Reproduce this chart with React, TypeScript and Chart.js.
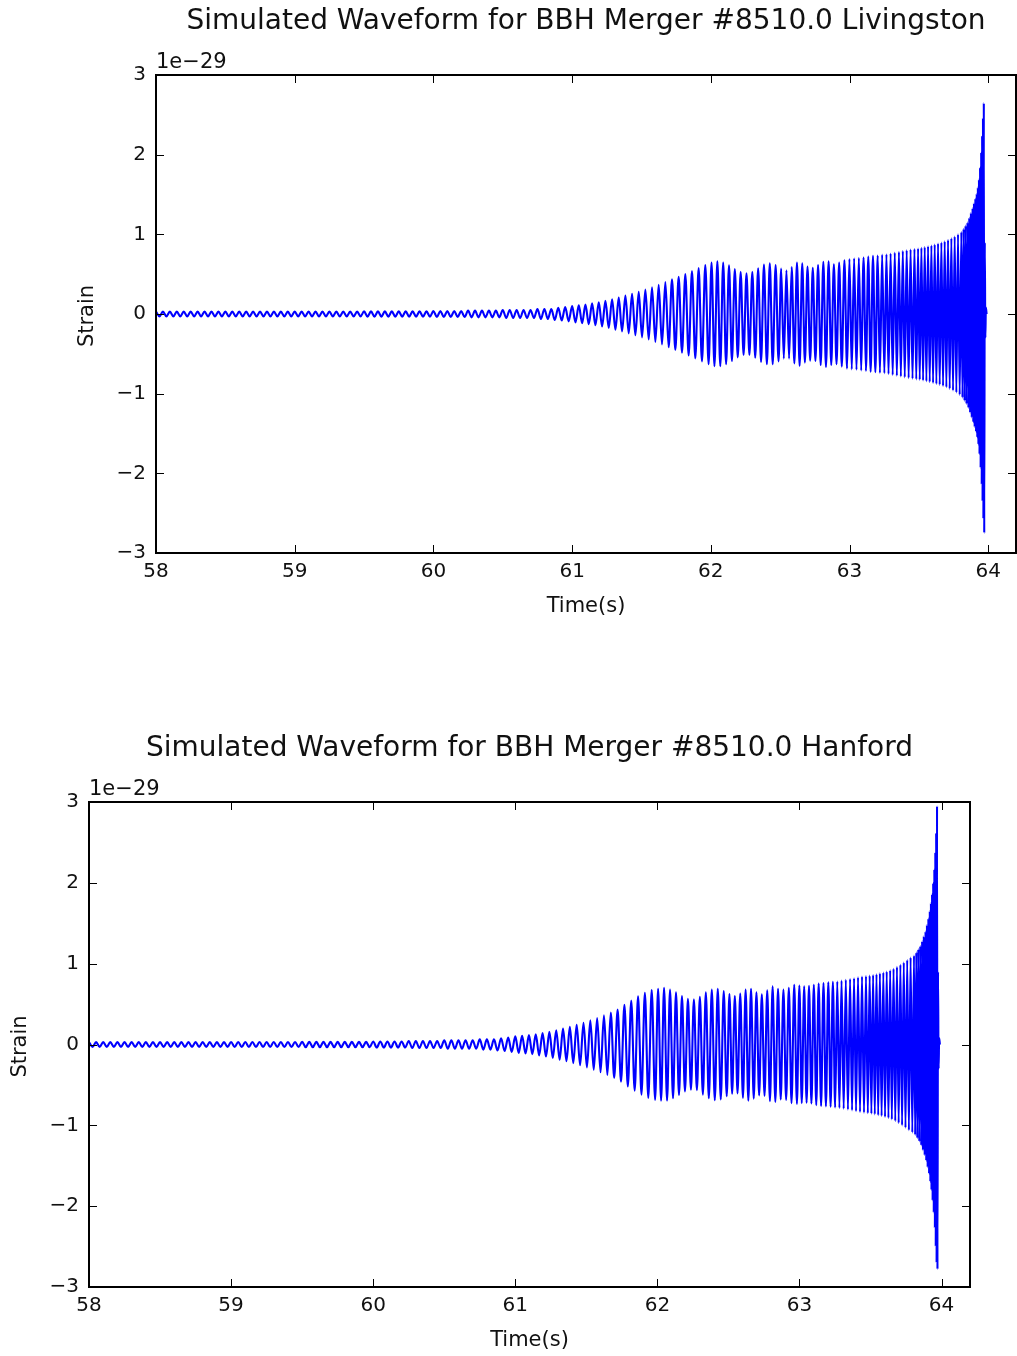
import React, { useEffect, useRef } from "react";
import { Chart, registerables } from "chart.js";

Chart.register(...registerables);

// ---------------- data ----------------
const mergerId = "8510.0";
const detectorNames = ["Livingston", "Hanford"];
const xTickValues = [58, 59, 60, 61, 62, 63, 64];
const yTickValues = [-3, -2, -1, 0, 1, 2, 3];
const exponentLabel = "1e\u221229";
const xAxisTitle = "Time(s)";
const yAxisTitle = "Strain";

// times (s) of successive maxima / minima of the waveform
const extremaTimes = [
  58, 58.025, 58.05, 58.075, 58.1, 58.125, 58.15, 58.175, 58.2, 58.225, 58.25, 58.275, 58.3, 58.325, 58.35, 58.375, 58.4, 58.425, 58.45, 58.475,
  58.5, 58.525, 58.55, 58.575, 58.6, 58.625, 58.65, 58.675, 58.7, 58.725, 58.75, 58.775, 58.8, 58.825, 58.85, 58.875, 58.9, 58.925, 58.95, 58.975,
  59, 59.025, 59.05, 59.075, 59.1, 59.125, 59.15, 59.175, 59.2, 59.225, 59.25, 59.275, 59.3, 59.325, 59.35, 59.375, 59.4, 59.425, 59.45, 59.475,
  59.5, 59.525, 59.55, 59.575, 59.6, 59.625, 59.65, 59.675, 59.7, 59.725, 59.75, 59.775, 59.8, 59.825, 59.85, 59.875, 59.9, 59.925, 59.95, 59.975,
  60, 60.025, 60.05, 60.075, 60.1, 60.125, 60.15, 60.175, 60.2, 60.225, 60.25, 60.275, 60.3, 60.325, 60.35, 60.375, 60.4, 60.425, 60.45, 60.475,
  60.5, 60.525, 60.55, 60.575, 60.6, 60.625, 60.65, 60.675, 60.7, 60.725, 60.75, 60.775, 60.8, 60.825, 60.85, 60.875, 60.9, 60.925, 60.95, 60.975,
  61, 61.024, 61.048, 61.072, 61.096, 61.12, 61.144, 61.168, 61.192, 61.216, 61.24, 61.264, 61.288, 61.312, 61.336, 61.36, 61.384, 61.408, 61.432, 61.456, 61.48,
  61.504, 61.528, 61.552, 61.576, 61.6, 61.624, 61.648, 61.672, 61.696, 61.72, 61.744, 61.768, 61.792, 61.816, 61.84, 61.864, 61.888, 61.912, 61.936, 61.96, 61.984,
  62.005, 62.026, 62.047, 62.068, 62.089, 62.11, 62.131, 62.152, 62.173, 62.194, 62.215, 62.236, 62.257, 62.278, 62.299, 62.32, 62.341, 62.362, 62.383, 62.404, 62.425, 62.446, 62.467, 62.488,
  62.507, 62.526, 62.545, 62.564, 62.583, 62.602, 62.621, 62.64, 62.659, 62.678, 62.697, 62.716, 62.735, 62.754, 62.773, 62.792, 62.811, 62.83, 62.849, 62.868, 62.887, 62.906, 62.925, 62.944, 62.963, 62.982,
  62.999, 63.016, 63.033, 63.05, 63.067, 63.084, 63.101, 63.118, 63.135, 63.152, 63.169, 63.186, 63.203, 63.219, 63.235, 63.251,
  63.266, 63.281, 63.296, 63.311, 63.326, 63.341, 63.356, 63.37, 63.384, 63.398, 63.412, 63.426, 63.44, 63.454, 63.468, 63.481,
  63.494, 63.506, 63.518, 63.53, 63.542, 63.554, 63.566, 63.578, 63.59, 63.602, 63.614, 63.626, 63.638, 63.65, 63.662, 63.674, 63.686, 63.698, 63.71, 63.722, 63.734, 63.746, 63.758, 63.77, 63.782, 63.794,
  63.806, 63.814, 63.822, 63.829, 63.836, 63.843, 63.85, 63.857, 63.863, 63.869, 63.875, 63.881, 63.887, 63.892, 63.897, 63.902, 63.907,
  63.912, 63.917, 63.921, 63.925, 63.929, 63.933, 63.937, 63.941, 63.945, 63.949, 63.953, 63.956, 63.959, 63.962, 63.965, 63.968, 63.971,
  63.975, 63.979, 63.983, 63.988,
];

// strain (units of 1e-29) at each extremum — Livingston
const livingstonStrain = [
  0.03, -0.03, 0.03, -0.03, 0.03, -0.03, 0.03, -0.03, 0.03, -0.03, 0.03, -0.03, 0.03, -0.03, 0.03, -0.03, 0.03, -0.03, 0.03, -0.03,
  0.03, -0.03, 0.03, -0.03, 0.03, -0.03, 0.03, -0.03, 0.03, -0.03, 0.03, -0.03, 0.03, -0.03, 0.03, -0.03, 0.03, -0.03, 0.03, -0.03,
  0.03, -0.03, 0.03, -0.03, 0.03, -0.03, 0.03, -0.03, 0.03, -0.03, 0.03, -0.03, 0.03, -0.03, 0.03, -0.03, 0.03, -0.03, 0.03, -0.03,
  0.033, -0.033, 0.033, -0.033, 0.033, -0.033, 0.033, -0.033, 0.033, -0.033, 0.033, -0.033, 0.033, -0.033, 0.033, -0.033, 0.033, -0.033, 0.033, -0.033,
  0.036, -0.036, 0.036, -0.036, 0.036, -0.036, 0.036, -0.036, 0.036, -0.036, 0.042, -0.042, 0.042, -0.042, 0.042, -0.042, 0.042, -0.042, 0.042, -0.042,
  0.05, -0.05, 0.05, -0.05, 0.05, -0.05, 0.05, -0.05, 0.05, -0.05, 0.062, -0.062, 0.062, -0.062, 0.062, -0.075, 0.078, -0.082, 0.087, -0.092,
  0.1, -0.105, 0.11, -0.115, 0.12, -0.127, 0.134, -0.141, 0.148, -0.156, 0.165, -0.175, 0.185, -0.196, 0.207, -0.219, 0.231, -0.243, 0.255, -0.267, 0.28,
  -0.293, 0.307, -0.321, 0.336, -0.35, 0.366, -0.383, 0.4, -0.417, 0.434, -0.451, 0.468, -0.485, 0.503, -0.521, 0.54, -0.558, 0.576, -0.595, 0.613, -0.63,
  0.645, -0.655, 0.66, -0.655, 0.645, -0.63, 0.61, -0.59, 0.565, -0.545, 0.53, -0.515, 0.51, -0.515, 0.53, -0.55, 0.575, -0.6, 0.62, -0.63, 0.635, -0.63, 0.615, -0.595,
  0.57, -0.56, 0.55, -0.56, 0.59, -0.62, 0.645, -0.65, 0.635, -0.61, 0.595, -0.585, 0.58, -0.59, 0.615, -0.64, 0.655, -0.665, 0.66, -0.64, 0.625, -0.63, 0.645, -0.66, 0.675, -0.685,
  0.69, -0.695, 0.7, -0.7, 0.705, -0.71, 0.71, -0.715, 0.72, -0.725, 0.73, -0.73, 0.735, -0.74, 0.745, -0.745,
  0.75, -0.755, 0.76, -0.765, 0.77, -0.775, 0.78, -0.785, 0.79, -0.795, 0.8, -0.805, 0.81, -0.812, 0.815, -0.82,
  0.822, -0.826, 0.83, -0.835, 0.84, -0.845, 0.85, -0.855, 0.86, -0.866, 0.872, -0.878, 0.884, -0.89, 0.897, -0.904, 0.912, -0.92, 0.93, -0.94, 0.95, -0.96, 0.972, -0.985, 1.0, -1.015,
  1.03, -1.05, 1.07, -1.09, 1.11, -1.13, 1.15, -1.18, 1.21, -1.24, 1.27, -1.3, 1.33, -1.36, 1.39, -1.42, 1.45,
  -1.48, 1.51, -1.55, 1.59, -1.64, 1.69, -1.76, 1.84, -1.93, 2.03, -2.14, 2.24, -2.35, 2.46, -2.57, 2.65, -2.75,
  0.9, -0.3, 0.08, 0,
];

// strain (units of 1e-29) at each extremum — Hanford
const hanfordStrain = [
  0.03, -0.03, 0.03, -0.03, 0.03, -0.03, 0.03, -0.03, 0.03, -0.03, 0.03, -0.03, 0.03, -0.03, 0.03, -0.03, 0.03, -0.03, 0.03, -0.03,
  0.03, -0.03, 0.03, -0.03, 0.03, -0.03, 0.03, -0.03, 0.03, -0.03, 0.03, -0.03, 0.03, -0.03, 0.03, -0.03, 0.03, -0.03, 0.03, -0.03,
  0.031, -0.031, 0.031, -0.031, 0.031, -0.031, 0.031, -0.031, 0.031, -0.031, 0.031, -0.031, 0.031, -0.031, 0.031, -0.031, 0.031, -0.031, 0.031, -0.031,
  0.034, -0.034, 0.034, -0.034, 0.034, -0.034, 0.034, -0.034, 0.034, -0.034, 0.034, -0.034, 0.034, -0.034, 0.034, -0.034, 0.034, -0.034, 0.034, -0.034,
  0.038, -0.038, 0.038, -0.038, 0.038, -0.038, 0.038, -0.038, 0.038, -0.038, 0.044, -0.044, 0.044, -0.044, 0.044, -0.044, 0.044, -0.044, 0.044, -0.044,
  0.052, -0.052, 0.052, -0.052, 0.052, -0.052, 0.052, -0.052, 0.052, -0.052, 0.063, -0.063, 0.063, -0.063, 0.063, -0.074, 0.077, -0.081, 0.086, -0.092,
  0.1, -0.104, 0.108, -0.112, 0.116, -0.12, 0.127, -0.134, 0.141, -0.149, 0.158, -0.167, 0.177, -0.187, 0.197, -0.207, 0.219, -0.231, 0.244, -0.257, 0.27,
  -0.284, 0.298, -0.313, 0.328, -0.344, 0.36, -0.377, 0.395, -0.413, 0.432, -0.46, 0.49, -0.52, 0.545, -0.57, 0.595, -0.62, 0.64, -0.66, 0.675, -0.685,
  0.69, -0.695, 0.7, -0.695, 0.68, -0.665, 0.645, -0.625, 0.6, -0.58, 0.565, -0.56, 0.56, -0.565, 0.59, -0.62, 0.645, -0.665, 0.68, -0.69, 0.69, -0.68, 0.66, -0.64,
  0.625, -0.61, 0.6, -0.605, 0.63, -0.66, 0.68, -0.695, 0.69, -0.67, 0.645, -0.63, 0.62, -0.635, 0.67, -0.7, 0.72, -0.71, 0.69, -0.68, 0.68, -0.685, 0.7, -0.725, 0.74, -0.735,
  0.73, -0.725, 0.72, -0.72, 0.725, -0.73, 0.74, -0.75, 0.755, -0.76, 0.76, -0.765, 0.77, -0.77, 0.775, -0.78,
  0.78, -0.785, 0.79, -0.795, 0.8, -0.805, 0.81, -0.815, 0.82, -0.825, 0.83, -0.835, 0.84, -0.843, 0.846, -0.85,
  0.852, -0.856, 0.86, -0.865, 0.87, -0.875, 0.88, -0.885, 0.89, -0.896, 0.903, -0.91, 0.918, -0.927, 0.937, -0.948, 0.96, -0.973, 0.987, -1.0, 1.015, -1.03, 1.045, -1.06, 1.075, -1.09,
  1.1, -1.12, 1.14, -1.16, 1.18, -1.2, 1.22, -1.25, 1.28, -1.31, 1.34, -1.37, 1.4, -1.44, 1.48, -1.52, 1.56,
  -1.6, 1.65, -1.7, 1.75, -1.8, 1.86, -1.93, 2.0, -2.08, 2.17, -2.27, 2.38, -2.5, 2.62, -2.7, 2.95, -2.78,
  0.9, -0.3, 0.08, 0,
];

const seriesByDetector = [livingstonStrain, hanfordStrain];

// ---------------- layout ----------------
const PAGE_W = 1017;
const panels = [
  { top: 0, height: 660, plot: { left: 156, top: 75, right: 1016, bottom: 553 } },
  { top: 660, height: 696, plot: { left: 89, top: 142, right: 970, bottom: 627 } },
];

const FONT = "'DejaVu Sans', 'Liberation Sans', sans-serif";
const fmt = (v: number) => String(v).replace("-", "\u2212");

const framePlugin = {
  id: "mplFrame",
  afterDraw(chart: any, _args: any, opts: any) {
    const { ctx, chartArea: a, scales } = chart;
    ctx.save();
    ctx.strokeStyle = "#000";
    ctx.lineWidth = 1;
    const L = 8;
    const seg = (x1: number, y1: number, x2: number, y2: number) => {
      ctx.beginPath();
      ctx.moveTo(x1, y1);
      ctx.lineTo(x2, y2);
      ctx.stroke();
    };
    for (const v of xTickValues) {
      const px = Math.round(scales.x.getPixelForValue(v)) + 0.5;
      seg(px, a.bottom, px, a.bottom - L);
      seg(px, a.top, px, a.top + L);
    }
    for (const v of yTickValues) {
      const py = Math.round(scales.y.getPixelForValue(v)) + 0.5;
      seg(a.left, py, a.left + L, py);
      seg(a.right, py, a.right - L, py);
    }
    ctx.lineWidth = 2;
    ctx.strokeRect(a.left, a.top, a.right - a.left, a.bottom - a.top);

    ctx.fillStyle = "#111";
    // title
    ctx.font = `28px ${FONT}`;
    ctx.textAlign = "center";
    ctx.textBaseline = "alphabetic";
    ctx.fillText(opts.title, (a.left + a.right) / 2, a.top - 46);
    // offset text
    ctx.font = `21px ${FONT}`;
    ctx.textAlign = "left";
    ctx.fillText(exponentLabel, a.left, a.top - 7);
    // x axis title
    ctx.font = `21px ${FONT}`;
    ctx.textAlign = "center";
    ctx.textBaseline = "middle";
    ctx.fillText(xAxisTitle, (a.left + a.right) / 2, a.bottom + 54);
    // y axis title
    ctx.save();
    ctx.translate(a.left - 68, (a.top + a.bottom) / 2 + 2);
    ctx.rotate(-Math.PI / 2);
    ctx.fillText(yAxisTitle, 0, 0);
    ctx.restore();
    ctx.restore();
  },
};

function Panel({ index }: { index: number }) {
  const ref = useRef<HTMLCanvasElement | null>(null);
  const p = panels[index];
  useEffect(() => {
    if (!ref.current) return;
    const values = seriesByDetector[index];
    const points = extremaTimes.map((t, i) => ({ x: t, y: values[i] }));
    const title = `Simulated Waveform for BBH Merger #${mergerId} ${detectorNames[index]}`;
    const chart = new Chart(ref.current, {
      type: "line",
      data: {
        datasets: [
          {
            data: points,
            borderColor: "#0000ff",
            borderWidth: 2.1,
            pointRadius: 0,
            cubicInterpolationMode: "monotone",
            fill: false,
          },
        ],
      },
      plugins: [framePlugin],
      options: {
        animation: false,
        responsive: false,
        devicePixelRatio: 1,
        events: [],
        layout: { padding: { left: 0, top: p.plot.top, right: PAGE_W - p.plot.right, bottom: 0 } },
        plugins: {
          legend: { display: false },
          tooltip: { enabled: false },
          title: { display: false },
          mplFrame: { title },
        } as any,
        scales: {
          x: {
            type: "linear",
            min: 58,
            max: 64.2,
            grid: { display: false, drawTicks: false },
            border: { display: false },
            afterBuildTicks: (s: any) => {
              s.ticks = xTickValues.map((v) => ({ value: v }));
            },
            afterFit: (s: any) => {
              s.height = p.height - p.plot.bottom;
            },
            ticks: {
              padding: 7,
              color: "#111",
              maxRotation: 0,
              autoSkip: false,
              font: { family: FONT, size: 20 },
              callback: (v: any) => fmt(Number(v)),
            },
          },
          y: {
            type: "linear",
            min: -3,
            max: 3,
            grid: { display: false, drawTicks: false },
            border: { display: false },
            afterBuildTicks: (s: any) => {
              s.ticks = yTickValues.map((v) => ({ value: v }));
            },
            afterFit: (s: any) => {
              s.width = p.plot.left;
            },
            ticks: {
              padding: 10,
              color: "#111",
              autoSkip: false,
              font: { family: FONT, size: 20 },
              callback: (v: any) => fmt(Number(v)),
            },
          },
        },
      } as any,
    });
    return () => chart.destroy();
  }, [index]);
  return (
    <canvas
      ref={ref}
      width={PAGE_W}
      height={p.height}
      style={{ position: "absolute", left: 0, top: p.top, width: PAGE_W, height: p.height, display: "block" }}
    />
  );
}

export default function App() {
  return (
    <div style={{ position: "absolute", left: 0, top: 0, width: PAGE_W, height: 1356, background: "#fff" }}>
      <Panel index={0} />
      <Panel index={1} />
    </div>
  );
}
